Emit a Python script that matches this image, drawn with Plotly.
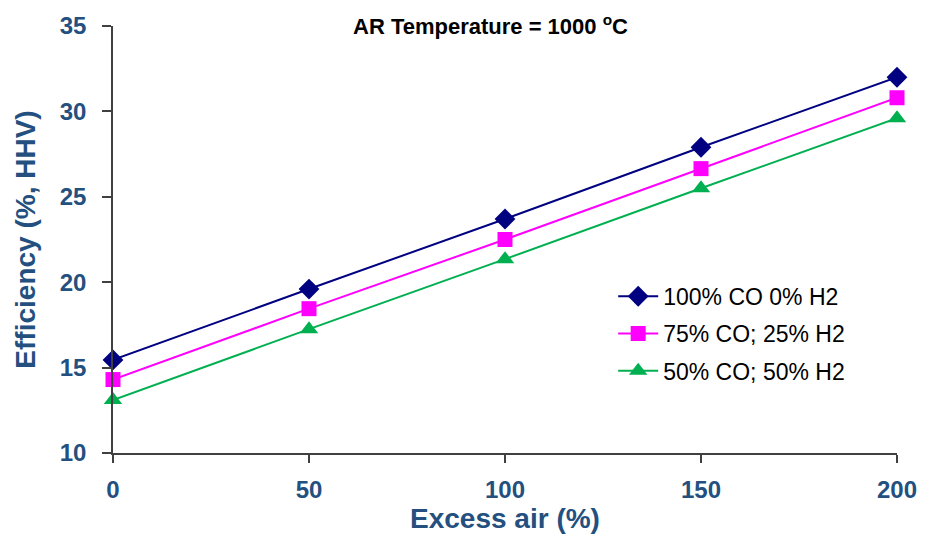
import plotly.graph_objects as go

excess_air = [0, 50, 100, 150, 200]
eff_100co = [15.45, 19.6, 23.7, 27.9, 32.0]
eff_75co = [14.3, 18.45, 22.5, 26.65, 30.8]
eff_50co = [13.1, 17.25, 21.35, 25.5, 29.6]
series_names = ["100% CO 0% H2", "75% CO; 25% H2", "50% CO; 50% H2"]
x_ticks = [0, 50, 100, 150, 200]
y_ticks = [10, 15, 20, 25, 30, 35]

FONT = "Liberation Sans, Arial, sans-serif"
BLUE = "#24507f"

fig = go.Figure()
styles = [
    ("#000080", "diamond", 16, "legend"),
    ("#ff00ff", "square", 15, "legend2"),
    ("#00b050", "triangle-up", 16, "legend3"),
]
for vals, name, (col, sym, sz, lg) in zip([eff_100co, eff_75co, eff_50co], series_names, styles):
    fig.add_trace(go.Scatter(
        x=excess_air, y=vals, name=name, mode="lines+markers",
        line=dict(color=col, width=2),
        marker=dict(symbol=sym, size=sz, color=col),
        cliponaxis=False, legend=lg,
    ))

legend_common = dict(font=dict(family=FONT, size=23, color="black"),
                     bgcolor="rgba(0,0,0,0)", xanchor="left", yanchor="middle",
                     itemwidth=40)
fig.update_layout(
    width=929, height=542, showlegend=True,
    margin=dict(l=113, r=31, t=17, b=89),
    paper_bgcolor="white", plot_bgcolor="white",
    font=dict(family=FONT),
    legend=dict(x=0.638, y=(453 - 293) / 436, **legend_common),
    legend2=dict(x=0.638, y=(453 - 331) / 436, **legend_common),
    legend3=dict(x=0.638, y=(453 - 369) / 436, **legend_common),
    xaxis=dict(
        range=[0, 200], tickvals=x_ticks, ticks="outside", ticklen=8, tickwidth=1.5,
        tickcolor="#404040", showline=True, linecolor="#404040", linewidth=1.5,
        showgrid=False, zeroline=False, ticklabelstandoff=6,
        tickfont=dict(family=FONT, size=24, color=BLUE, weight="bold"),
        title=dict(text="Excess air (%)", standoff=0,
                   font=dict(family=FONT, size=28, color=BLUE, weight="bold")),
    ),
    yaxis=dict(
        range=[10, 35], tickvals=y_ticks, ticks="outside", ticklen=9, tickwidth=1.5,
        tickcolor="#404040", showline=True, linecolor="#404040", linewidth=1.5,
        showgrid=False, zeroline=False, ticklabelstandoff=11,
        tickfont=dict(family=FONT, size=24, color=BLUE, weight="bold"),
        title=dict(text="Efficiency (%, HHV)", standoff=16,
                   font=dict(family=FONT, size=28, color=BLUE, weight="bold")),
    ),
    annotations=[dict(
        text="AR Temperature = 1000 <sup>o</sup>C", x=0.482, y=(453 - 16) / 436,
        xref="paper", yref="paper",
        xanchor="center", yanchor="middle", showarrow=False,
        font=dict(family=FONT, size=22, color="black", weight="bold"),
    )],
)
fig.write_html("out.html")
